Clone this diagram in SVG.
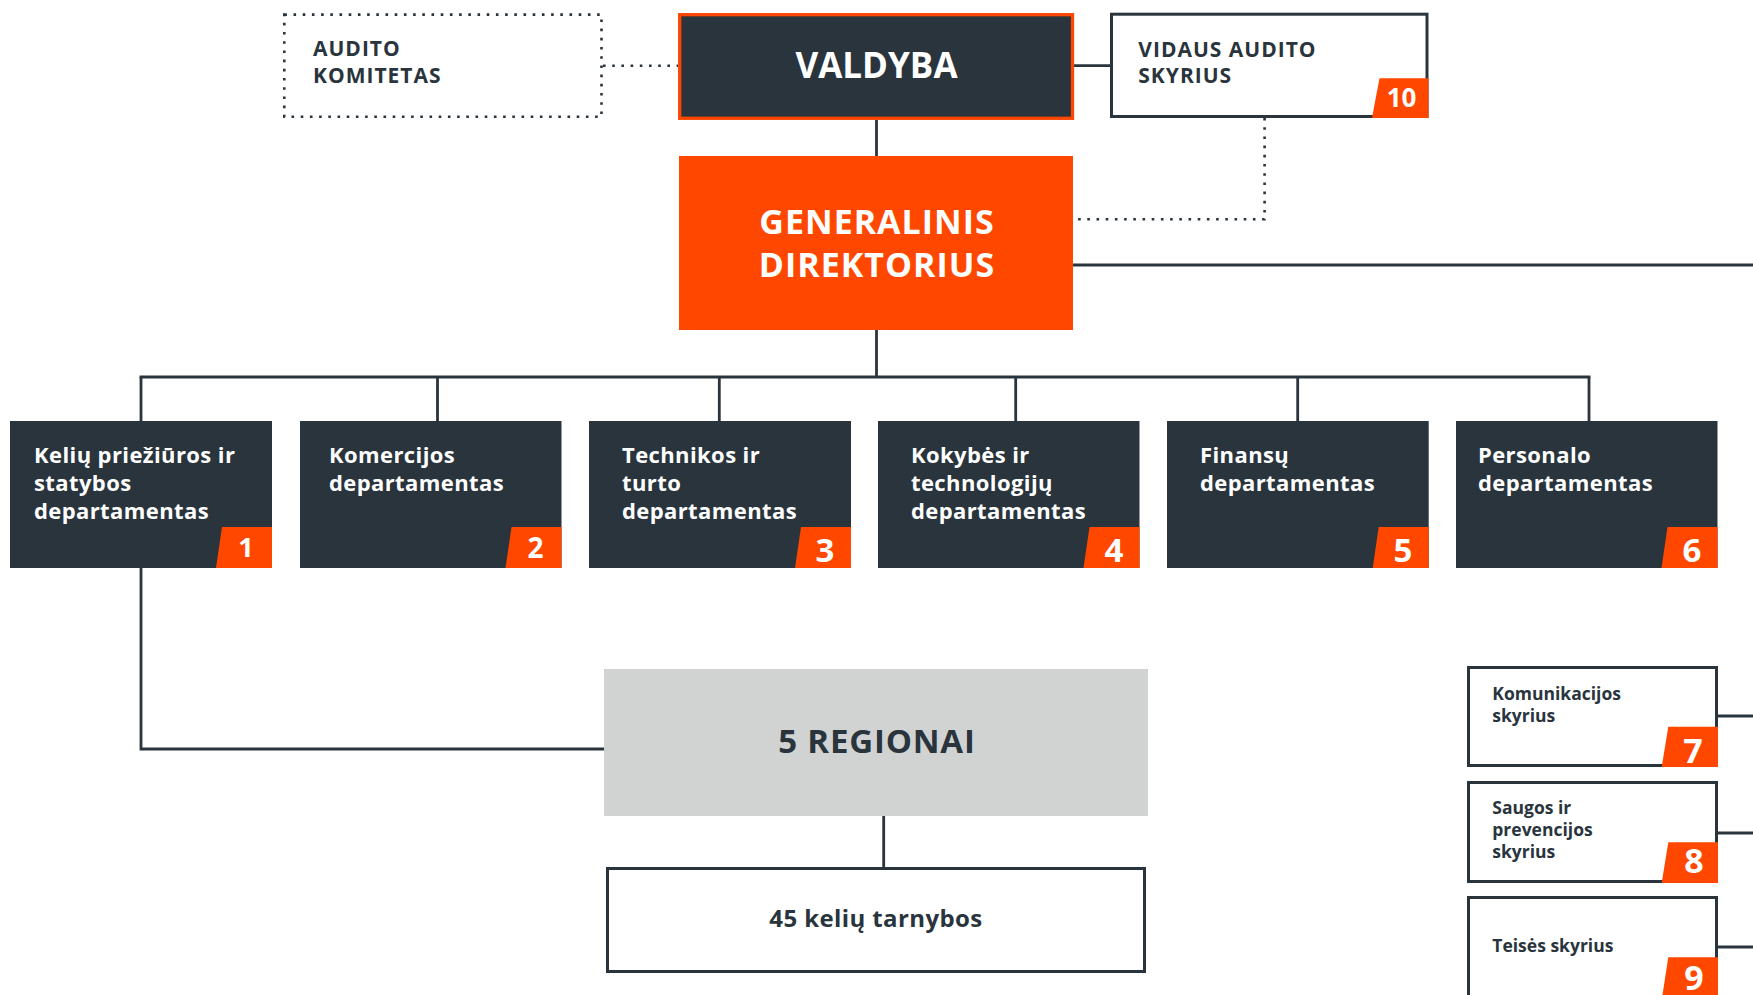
<svg xmlns="http://www.w3.org/2000/svg" width="1753" height="995" viewBox="0 0 1753 995">
<style>
text{font-family:"Open Sans","Lato","Liberation Sans",sans-serif;font-weight:700}
.ln{fill:none;stroke:#29343d;stroke-width:2.8}
.dot{fill:none;stroke:#29343d;stroke-width:2.6;stroke-dasharray:2.6 6.6}
.dark{fill:#29343d}
.org{fill:#ff4700}
.wbox{fill:#ffffff;stroke:#29343d;stroke-width:3}
.dept{fill:#ffffff;font-size:22px;letter-spacing:0.4px}
.num{fill:#ffffff;text-anchor:middle}
.dk{fill:#29343d}
.cap{fill:#29343d;font-size:21px;letter-spacing:1px}
.sm{fill:#29343d;font-size:17.5px}
</style>
<rect width="1753" height="995" fill="#ffffff"/>
<g id="connectors">
<line class="dot" x1="603" y1="65.7" x2="678" y2="65.7"/>
<line class="ln" x1="1074" y1="65.7" x2="1110" y2="65.7"/>
<line class="ln" x1="876.5" y1="120" x2="876.5" y2="156"/>
<polyline class="dot" points="1264.6,118 1264.6,219.3 1073,219.3"/>
<line class="ln" x1="1073" y1="265" x2="1753" y2="265"/>
<line class="ln" x1="876.5" y1="330" x2="876.5" y2="377"/>
<line class="ln" x1="139.6" y1="377" x2="1590.4" y2="377"/>
<line class="ln" x1="141" y1="377" x2="141" y2="421"/>
<line class="ln" x1="437.5" y1="377" x2="437.5" y2="421"/>
<line class="ln" x1="719.3" y1="377" x2="719.3" y2="421"/>
<line class="ln" x1="1015.7" y1="377" x2="1015.7" y2="421"/>
<line class="ln" x1="1297.7" y1="377" x2="1297.7" y2="421"/>
<line class="ln" x1="1589" y1="377" x2="1589" y2="421"/>
<polyline class="ln" points="141,568 141,749 604,749"/>
<line class="ln" x1="883.7" y1="816" x2="883.7" y2="867"/>
<line class="ln" x1="1718" y1="716" x2="1753" y2="716"/>
<line class="ln" x1="1718" y1="833" x2="1753" y2="833"/>
<line class="ln" x1="1718" y1="947" x2="1753" y2="947"/>
</g>
<g id="audito-komitetas">
<rect class="dot" x="284.3" y="14.6" width="317.2" height="102.2"/>
<text class="cap" x="313" y="56">AUDITO</text>
<text class="cap" x="313" y="83.3">KOMITETAS</text>
</g>
<g id="valdyba">
<rect x="679.7" y="14.7" width="392.8" height="103.6" fill="#29343d" stroke="#ff4700" stroke-width="3.3"/>
<text fill="#ffffff" font-size="35" x="876.5" y="78.3" text-anchor="middle">VALDYBA</text>
</g>
<g id="vidaus-audito">
<rect class="wbox" x="1111.5" y="14.2" width="315.5" height="102.3"/>
<polygon class="org" points="1379.5,78.3 1428.5,78.3 1428.5,118 1372,118"/>
<text class="cap" x="1138.3" y="57.3" letter-spacing="0.8">VIDAUS AUDITO</text>
<text class="cap" x="1138.3" y="83.3" letter-spacing="0.8">SKYRIUS</text>
<text class="num" font-size="26" x="1401.5" y="107.3">10</text>
</g>
<g id="generalinis-direktorius">
<rect class="org" x="679" y="156" width="394" height="174"/>
<text fill="#ffffff" font-size="34" letter-spacing="1" x="877" y="234.3" text-anchor="middle">GENERALINIS</text>
<text fill="#ffffff" font-size="34" letter-spacing="1" x="877" y="276.7" text-anchor="middle">DIREKTORIUS</text>
</g>
<g id="dept-1">
<rect class="dark" x="10" y="421" width="262" height="147"/>
<polygon class="org" points="222,527 272,527 272,568 216,568"/>
<text class="dept" x="34" y="463">Kelių priežiūros ir</text>
<text class="dept" x="34" y="491">statybos</text>
<text class="dept" x="34" y="519">departamentas</text>
<text class="num" font-size="27" x="246" y="556.7">1</text>
</g>
<g id="dept-2">
<rect class="dark" x="300" y="421" width="261.5" height="147"/>
<polygon class="org" points="511.5,527 561.5,527 561.5,568 505.5,568"/>
<text class="dept" x="329" y="463">Komercijos</text>
<text class="dept" x="329" y="491">departamentas</text>
<text class="num" font-size="28" x="535.5" y="557.5">2</text>
</g>
<g id="dept-3">
<rect class="dark" x="589" y="421" width="262" height="147"/>
<polygon class="org" points="801,527 851,527 851,568 795,568"/>
<text class="dept" x="622" y="463">Technikos ir</text>
<text class="dept" x="622" y="491">turto</text>
<text class="dept" x="622" y="519">departamentas</text>
<text class="num" font-size="33" x="825" y="562.3">3</text>
</g>
<g id="dept-4">
<rect class="dark" x="878" y="421" width="261.5" height="147"/>
<polygon class="org" points="1089.5,527 1139.5,527 1139.5,568 1083.5,568"/>
<text class="dept" x="911" y="463">Kokybės ir</text>
<text class="dept" x="911" y="491">technologijų</text>
<text class="dept" x="911" y="519">departamentas</text>
<text class="num" font-size="33" x="1114" y="562.3">4</text>
</g>
<g id="dept-5">
<rect class="dark" x="1167" y="421" width="261.7" height="147"/>
<polygon class="org" points="1378.7,527 1428.7,527 1428.7,568 1372.7,568"/>
<text class="dept" x="1200" y="463">Finansų</text>
<text class="dept" x="1200" y="491">departamentas</text>
<text class="num" font-size="33" x="1403" y="562.3">5</text>
</g>
<g id="dept-6">
<rect class="dark" x="1456" y="421" width="261.5" height="147"/>
<polygon class="org" points="1667.5,527 1717.5,527 1717.5,568 1661.5,568"/>
<text class="dept" x="1478" y="463">Personalo</text>
<text class="dept" x="1478" y="491">departamentas</text>
<text class="num" font-size="33" x="1692" y="562.3">6</text>
</g>
<g id="regionai">
<rect x="604" y="669" width="544" height="147" fill="#d1d3d3"/>
<text class="dk" font-size="33" letter-spacing="0.8" x="877" y="753" text-anchor="middle">5 REGIONAI</text>
</g>
<g id="keliu-tarnybos">
<rect class="wbox" x="607.5" y="868.5" width="537" height="103"/>
<text class="dk" font-size="24" letter-spacing="0.4" x="876" y="926.7" text-anchor="middle">45 kelių tarnybos</text>
</g>
<g id="komunikacijos">
<rect class="wbox" x="1468.5" y="667.5" width="248" height="98"/>
<polygon class="org" points="1668.3,726.7 1718,726.7 1718,767 1661.7,767"/>
<text class="sm" x="1492.3" y="700">Komunikacijos</text>
<text class="sm" x="1492.3" y="722.3">skyrius</text>
<text class="num" font-size="34" x="1693" y="762.7">7</text>
</g>
<g id="saugos">
<rect class="wbox" x="1468.5" y="782.5" width="248" height="99"/>
<polygon class="org" points="1668.3,842.3 1718,842.3 1718,883 1661.7,883"/>
<text class="sm" x="1492.3" y="814">Saugos ir</text>
<text class="sm" x="1492.3" y="836">prevencijos</text>
<text class="sm" x="1492.3" y="858.3">skyrius</text>
<text class="num" font-size="34" x="1694" y="873.3">8</text>
</g>
<g id="teises">
<rect class="wbox" x="1468.5" y="897.5" width="248" height="120"/>
<polygon class="org" points="1668.3,957.3 1718,957.3 1718,1000 1661.7,1000"/>
<text class="sm" x="1492.3" y="952.3">Teisės skyrius</text>
<text class="num" font-size="34" x="1694" y="990">9</text>
</g>
</svg>
